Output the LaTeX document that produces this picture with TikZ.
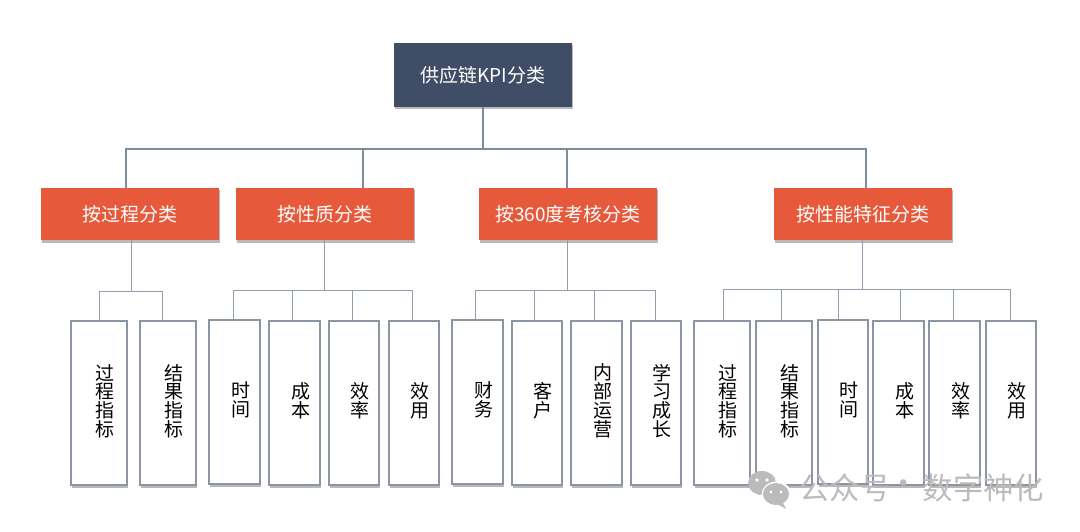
\documentclass[tikz,border=0pt]{standalone}
\usepackage{fontspec}
\setmainfont{Noto Sans CJK SC}
\usetikzlibrary{shadows}
\definecolor{rootblue}{HTML}{3F4E66}
\definecolor{catred}{HTML}{E6593B}
\definecolor{linkgray}{HTML}{7F8C9E}
\definecolor{leafgray}{HTML}{8B95A5}
\definecolor{markgray}{HTML}{BBBBBB}
\tikzset{
	boxshadow/.style={drop shadow={shadow xshift=1pt,shadow yshift=-2.5pt,fill=black!55,opacity=.5}},
	rootbox/.style={fill=rootblue,text=white,minimum width=178pt,minimum height=64pt,inner sep=0pt,boxshadow,font=\fontsize{19}{22}\selectfont},
	catbox/.style={fill=catred,text=white,minimum width=178pt,minimum height=52pt,inner sep=0pt,boxshadow,font=\fontsize{19}{22}\selectfont},
	leafbox/.style={draw=leafgray,line width=1.2pt,fill=white,minimum height=164pt,inner sep=0pt,boxshadow},
	leaftext/.style={align=center,inner sep=0pt,xshift=6pt,yshift=2pt,font=\fontsize{19}{18.8}\selectfont},
	rootlink/.style={draw=linkgray,line width=1.1pt},
	leaflink/.style={draw=linkgray!85,line width=.9pt},
	marktext/.style={text=markgray,inner sep=0pt,font=\fontsize{30.4}{32}\selectfont}
}
\begin{document}
\begin{tikzpicture}[x=1pt,y=-1pt]
	\useasboundingbox (0,0) rectangle (1080,532);
	% top two levels
	\node[rootbox] (root) at (483,75) {供应链KPI分类};
	\node[catbox] (cat1) at (129.5,214) {按过程分类};
	\node[catbox] (cat2) at (325,214) {按性质分类};
	\node[catbox] (cat3) at (568,214) {按360度考核分类};
	\node[catbox] (cat4) at (862.5,214) {按性能特征分类};
	% leaves
	\node[leafbox,minimum width=56pt,label={[leaftext]center:{过\\程\\指\\标}}] (a1) at (99,403) {};
	\node[leafbox,minimum width=56pt,label={[leaftext]center:{结\\果\\指\\标}}] (a2) at (168,403) {};
	\node[leafbox,minimum width=51pt,label={[leaftext]center:{时\\间}}] (b1) at (234.5,402) {};
	\node[leafbox,minimum width=51pt,label={[leaftext]center:{成\\本}}] (b2) at (294.5,403) {};
	\node[leafbox,minimum width=50pt,label={[leaftext]center:{效\\率}}] (b3) at (354,403) {};
	\node[leafbox,minimum width=50pt,label={[leaftext]center:{效\\用}}] (b4) at (414,403) {};
	\node[leafbox,minimum width=51pt,label={[leaftext]center:{财\\务}}] (c1) at (477.5,402) {};
	\node[leafbox,minimum width=50pt,label={[leaftext]center:{客\\户}}] (c2) at (537,403) {};
	\node[leafbox,minimum width=51pt,label={[leaftext]center:{内\\部\\运\\营}}] (c3) at (596.5,403) {};
	\node[leafbox,minimum width=50pt,label={[leaftext]center:{学\\习\\成\\长}}] (c4) at (656,403) {};
	\node[leafbox,minimum width=56pt,label={[leaftext]center:{过\\程\\指\\标}}] (d1) at (722,403) {};
	\node[leafbox,minimum width=56pt,label={[leaftext]center:{结\\果\\指\\标}}] (d2) at (784,403) {};
	\node[leafbox,minimum width=50pt,label={[leaftext]center:{时\\间}}] (d3) at (843,402) {};
	\node[leafbox,minimum width=51pt,label={[leaftext]center:{成\\本}}] (d4) at (898.5,403) {};
	\node[leafbox,minimum width=51pt,label={[leaftext]center:{效\\率}}] (d5) at (954.5,403) {};
	\node[leafbox,minimum width=50pt,label={[leaftext]center:{效\\用}}] (d6) at (1011,403) {};
	% root to categories
	\coordinate (busroot) at (483,149);
	\draw[rootlink] (root) -- (busroot);
	\foreach \cat/\dx in {cat1/-3.5,cat2/38,cat3/-1,cat4/3.5}{
		\draw[rootlink] (busroot) -| ([xshift=\dx]\cat.north);
	}
	% categories to leaves
	\coordinate (busa) at (131,291);
	\coordinate (busb) at (324,290);
	\coordinate (busc) at (567,290);
	\coordinate (busd) at (862,289);
	\draw[leaflink] ([xshift=1.5]cat1.south) -- (busa);
	\draw[leaflink] ([xshift=-1]cat2.south) -- (busb);
	\draw[leaflink] ([xshift=-1]cat3.south) -- (busc);
	\draw[leaflink] ([xshift=-.5]cat4.south) -- (busd);
	\foreach \leaf/\dx in {a1/0,a2/-6}{
		\draw[leaflink] (busa) -| ([xshift=\dx]\leaf.north);
	}
	\foreach \leaf/\dx in {b1/-1.5,b2/-2.5,b3/-2,b4/-2}{
		\draw[leaflink] (busb) -| ([xshift=\dx]\leaf.north);
	}
	\foreach \leaf/\dx in {c1/-2.5,c2/-3,c3/-2.5,c4/-1}{
		\draw[leaflink] (busc) -| ([xshift=\dx]\leaf.north);
	}
	\foreach \leaf/\dx in {d1/1,d2/-3,d3/-5,d4/1.5,d5/-1.5,d6/-1}{
		\draw[leaflink] (busd) -| ([xshift=\dx]\leaf.north);
	}
	% watermark
	\fill[markgray] (762,483) ellipse (14pt and 12pt);
	\fill[white] (776.5,494.5) ellipse (15pt and 13pt);
	\fill[markgray] (776,494) ellipse (13pt and 11pt);
	\fill[markgray] (783,503) -- (786,509) -- (777,504) -- cycle;
	\fill[white] (757,480) circle (1.8pt) (767,480) circle (1.8pt) (771,492) circle (1.6pt) (781,492) circle (1.6pt);
	\node[marktext,anchor=west] (markname) at (799,487.5) {公众号};
	\node[marktext] (markdot) at (904,487.5) {·};
	\node[marktext,anchor=west] (markbrand) at (922.5,487.5) {数字神化};
\end{tikzpicture}
\end{document}
